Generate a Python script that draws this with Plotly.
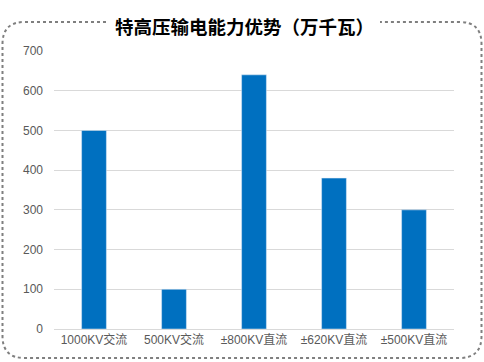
import plotly.graph_objects as go

categories = ["1000KV交流", "500KV交流", "±800KV直流", "±620KV直流", "±500KV直流"]
values = [500, 100, 640, 380, 300]
title_text = "特高压输电能力优势（万千瓦）"

W, H = 484, 362
def px(x): return x / W
def py(y): return 1 - y / H

fig = go.Figure(go.Bar(x=categories, y=values, marker_color="#0070C0", width=0.31))

# dotted rounded border with gap for title
l, r, t, b, rad = 2.5, 481.5, 22, 358, 22
gl, gr = 106, 380
pts = [
    f"M {px(gl)},{py(t)}",
    f"L {px(l+rad)},{py(t)}",
    f"Q {px(l)},{py(t)} {px(l)},{py(t+rad)}",
    f"L {px(l)},{py(b-rad)}",
    f"Q {px(l)},{py(b)} {px(l+rad)},{py(b)}",
    f"L {px(r-rad)},{py(b)}",
    f"Q {px(r)},{py(b)} {px(r)},{py(b-rad)}",
    f"L {px(r)},{py(t+rad)}",
    f"Q {px(r)},{py(t)} {px(r-rad)},{py(t)}",
    f"L {px(gr)},{py(t)}",
]
fig.add_shape(type="path", path=" ".join(pts), xref="paper", yref="paper",
              line=dict(color="#7F7F7F", width=2, dash="dot"))

fig.add_annotation(text=f"<b>{title_text}</b>", xref="paper", yref="paper",
                   x=px(244), y=py(26), xanchor="center", yanchor="middle", showarrow=False,
                   font=dict(family="Noto Sans CJK SC", size=18.5, color="#000000"))

fig.update_layout(
    width=W, height=H, margin=dict(l=0, r=0, t=0, b=0),
    paper_bgcolor="white", plot_bgcolor="white", showlegend=False,
    font=dict(family="Liberation Sans, Arial, Noto Sans CJK SC", size=12, color="#595959"),
    xaxis=dict(domain=[px(54), px(454)], showgrid=False, showline=True,
               linecolor="#D9D9D9", linewidth=1, ticks="", tickfont=dict(size=12),
               automargin=False),
    yaxis=dict(domain=[py(329), py(51)], range=[0, 700], dtick=100,
               showgrid=True, gridcolor="#D9D9D9", gridwidth=1, zeroline=False,
               showline=False, ticks="", ticklabelstandoff=10, automargin=False,
               tickfont=dict(size=12)),
)

fig.write_html("out.html", config={"displayModeBar": False},
               post_script="document.body.style.margin='0';document.body.style.padding='0';")
